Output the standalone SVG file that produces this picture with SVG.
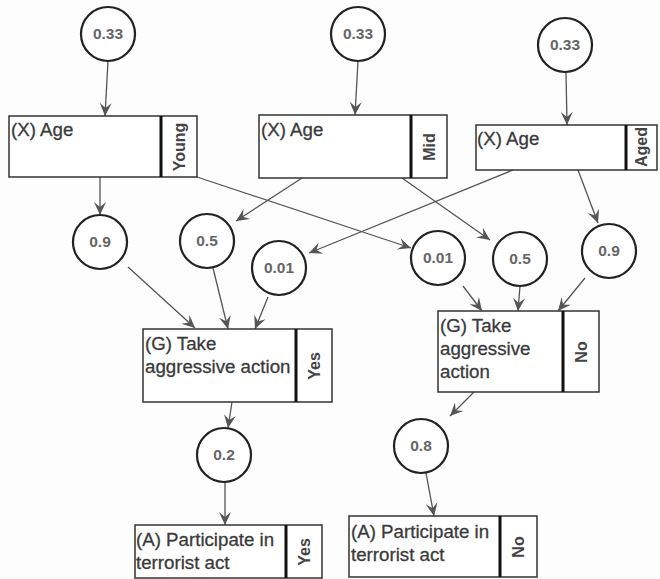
<svg xmlns="http://www.w3.org/2000/svg" width="660" height="579" viewBox="0 0 660 579">
<defs>
<marker id="ah" markerUnits="userSpaceOnUse" markerWidth="14" markerHeight="14" viewBox="0 0 14 14" refX="13" refY="7" orient="auto">
<path d="M0,1 L13,7 L0,13 L5,7 z" fill="#555"/>
</marker>
<style>
.bg{fill:#fdfdfd}
.c{fill:#fff;stroke:#222;stroke-width:2.2}
.n{font-family:"Liberation Sans",Arial,sans-serif;font-size:15.5px;font-weight:bold;fill:#666;text-anchor:middle}
.b{fill:#fff;stroke:#333;stroke-width:1.5}
.d{stroke:#111;stroke-width:3}
.t{font-family:"Liberation Sans",Arial,sans-serif;font-size:18.7px;fill:#3a3a3a;stroke:#3a3a3a;stroke-width:0.3}
.s{font-family:"Liberation Sans",Arial,sans-serif;font-size:16px;font-weight:bold;fill:#444;text-anchor:middle}
.e{stroke:#555;stroke-width:1.3;fill:none;marker-end:url(#ah)}
</style>
</defs>
<rect class="bg" x="0" y="0" width="660" height="579"/>
<g id="connectors">
<line class="e" x1="108" y1="61" x2="105" y2="116"/>
<line class="e" x1="358" y1="61" x2="355" y2="115"/>
<line class="e" x1="566" y1="72" x2="567" y2="125"/>
<line class="e" x1="100" y1="177" x2="100" y2="215"/>
<line class="e" x1="197" y1="177" x2="411" y2="248"/>
<line class="e" x1="302" y1="178" x2="236" y2="221"/>
<line class="e" x1="402" y1="178" x2="490" y2="240"/>
<line class="e" x1="513" y1="170" x2="309" y2="253"/>
<line class="e" x1="578" y1="170" x2="598" y2="223"/>
<line class="e" x1="128" y1="267" x2="195" y2="328"/>
<line class="e" x1="213" y1="268" x2="228" y2="329"/>
<line class="e" x1="268" y1="297" x2="255" y2="329"/>
<line class="e" x1="463" y1="286" x2="482" y2="311"/>
<line class="e" x1="520" y1="286" x2="518" y2="311"/>
<line class="e" x1="585" y1="278" x2="558" y2="311"/>
<line class="e" x1="232" y1="402" x2="228" y2="428"/>
<line class="e" x1="225" y1="482" x2="225" y2="525"/>
<line class="e" x1="474" y1="392" x2="450" y2="416"/>
<line class="e" x1="426" y1="473" x2="434" y2="516"/>
</g>
<g id="p1"><circle class="c" cx="108" cy="34" r="27"/><text class="n" x="108" y="39">0.33</text></g>
<g id="p2"><circle class="c" cx="358" cy="34" r="27"/><text class="n" x="358" y="39">0.33</text></g>
<g id="p3"><circle class="c" cx="565" cy="45" r="27"/><text class="n" x="565" y="50">0.33</text></g>
<g id="ageYoung"><rect class="b" x="9" y="116" width="188" height="61"/><line class="d" x1="161" y1="116" x2="161" y2="177"/><text class="t" x="11" y="136">(X) Age</text><text class="s" transform="translate(185,147) rotate(-90)">Young</text></g>
<g id="ageMid"><rect class="b" x="259" y="115" width="188" height="63"/><line class="d" x1="411" y1="115" x2="411" y2="178"/><text class="t" x="261" y="136">(X) Age</text><text class="s" transform="translate(435,147) rotate(-90)">Mid</text></g>
<g id="ageAged"><rect class="b" x="476" y="125" width="181" height="45"/><line class="d" x1="626" y1="125" x2="626" y2="170"/><text class="t" x="477" y="145">(X) Age</text><text class="s" transform="translate(647,147) rotate(-90)">Aged</text></g>
<g id="q1"><circle class="c" cx="100" cy="242" r="27"/><text class="n" x="100" y="247">0.9</text></g>
<g id="q2"><circle class="c" cx="207" cy="241" r="27"/><text class="n" x="207" y="246">0.5</text></g>
<g id="q3"><circle class="c" cx="279" cy="268" r="27"/><text class="n" x="279" y="273">0.01</text></g>
<g id="q4"><circle class="c" cx="438" cy="258" r="27"/><text class="n" x="438" y="263">0.01</text></g>
<g id="q5"><circle class="c" cx="520" cy="259" r="27"/><text class="n" x="520" y="264">0.5</text></g>
<g id="q6"><circle class="c" cx="609" cy="251" r="27"/><text class="n" x="609" y="256">0.9</text></g>
<g id="gYes"><rect class="b" x="143" y="329" width="189" height="73"/><line class="d" x1="296" y1="329" x2="296" y2="402"/><text class="t" x="145" y="350">(G) Take</text><text class="t" x="145" y="373">aggressive action</text><text class="s" transform="translate(320,366) rotate(-90)">Yes</text></g>
<g id="gNo"><rect class="b" x="438" y="311" width="161" height="81"/><line class="d" x1="563" y1="311" x2="563" y2="392"/><text class="t" x="440" y="332">(G) Take</text><text class="t" x="440" y="355">aggressive</text><text class="t" x="440" y="378">action</text><text class="s" transform="translate(587,352) rotate(-90)">No</text></g>
<g id="r1"><circle class="c" cx="224" cy="455" r="27"/><text class="n" x="224" y="460">0.2</text></g>
<g id="r2"><circle class="c" cx="421" cy="446" r="27"/><text class="n" x="421" y="451">0.8</text></g>
<g id="aYes"><rect class="b" x="135" y="525" width="187" height="53"/><line class="d" x1="286" y1="525" x2="286" y2="578"/><text class="t" x="136" y="546">(A) Participate in</text><text class="t" x="136" y="569">terrorist act</text><text class="s" transform="translate(310,552) rotate(-90)">Yes</text></g>
<g id="aNo"><rect class="b" x="349" y="516" width="188" height="61"/><line class="d" x1="500" y1="516" x2="500" y2="577"/><text class="t" x="351" y="538">(A) Participate in</text><text class="t" x="351" y="561">terrorist act</text><text class="s" transform="translate(524,547) rotate(-90)">No</text></g>
</svg>
